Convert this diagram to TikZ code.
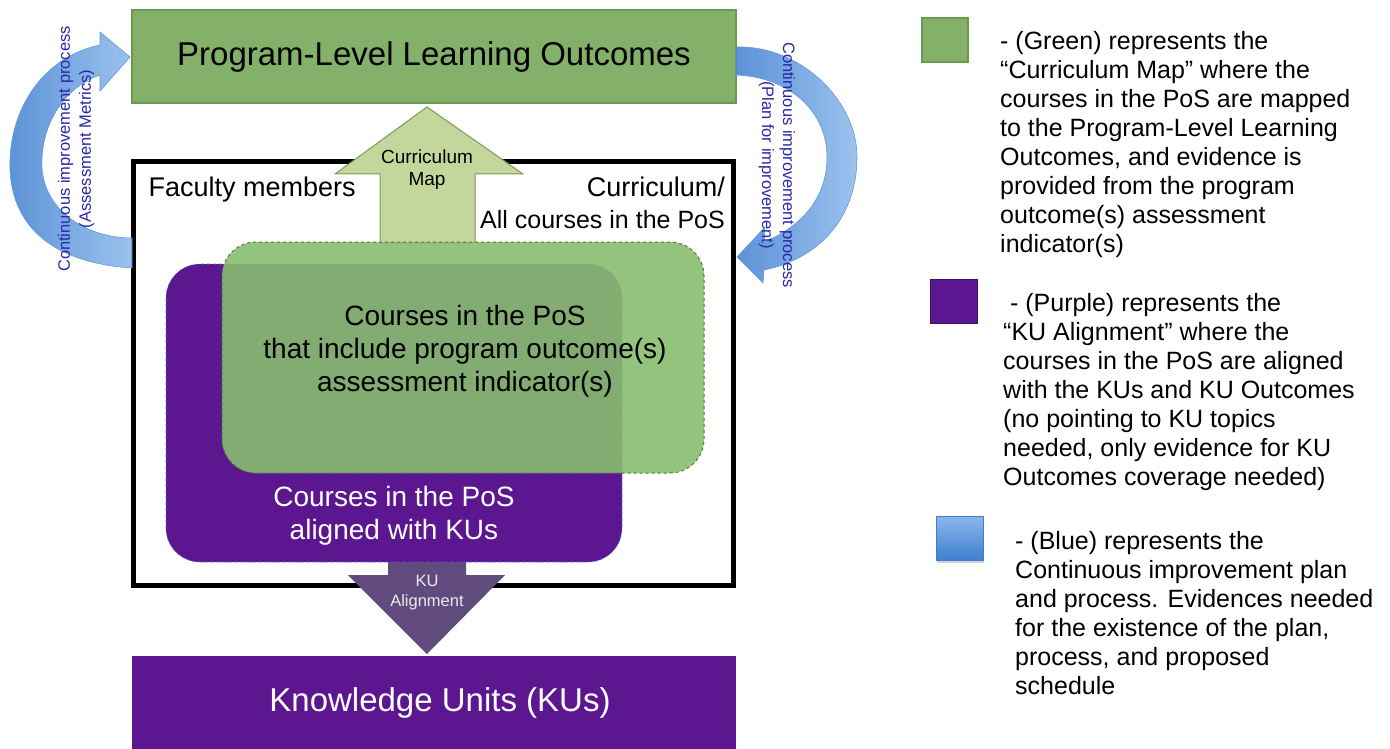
\documentclass[tikz,border=0pt]{standalone}
\usepackage{fontspec}
\setmainfont{Liberation Sans}
\usetikzlibrary{shadows}
\definecolor{plofill}{HTML}{84B16A}
\definecolor{plodraw}{HTML}{6A9A50}
\definecolor{mapfill}{HTML}{C3D69B}
\definecolor{mapdraw}{HTML}{7A9A55}
\definecolor{posfill}{HTML}{87BD6E}
\definecolor{posdraw}{HTML}{4E7A38}
\definecolor{kufill}{HTML}{5C1690}
\definecolor{aligndraw}{HTML}{614A7E}
\definecolor{cidark}{HTML}{3F7FD0}
\definecolor{cilight}{HTML}{8AB8EA}
\definecolor{citext}{HTML}{2828A8}
\tikzset{
  big/.style={font=\fontsize{33}{38}\selectfont},
  mid/.style={font=\fontsize{28}{33}\selectfont},
  small/.style={font=\fontsize{19}{22}\selectfont},
  tiny/.style={font=\fontsize{16.5}{20}\selectfont},
  legend/.style={font=\fontsize{25}{29}\selectfont, align=left, anchor=north west, inner sep=0pt},
  ciarrow/.style={left color=cidark, right color=cilight, fill opacity=0.85, draw=cidark!80, line width=0.6pt},
  citxt/.style={font=\fontsize{16.5}{21}\selectfont, text=citext, align=center}
}
\begin{document}
\begin{tikzpicture}[x=1pt,y=-1pt]
  \useasboundingbox (0,0) rectangle (1390,749);
  % top and bottom boxes
  \node[big, fill=plofill, draw=plodraw, line width=1.2pt, minimum width=604pt, minimum height=93pt] (plo) at (434,56.5) {Program-Level Learning Outcomes};
  \node[fill=kufill, minimum width=604pt, minimum height=96pt] (ku) at (434,704) {};
  \node[big, text=white] (kutext) at (440,703) {Knowledge Units (KUs)};
  % black frame
  \draw[line width=5pt] (133,162) rectangle (733,585);
  \node[font=\fontsize{27}{32}\selectfont, anchor=west] (faculty) at (145,190) {Faculty members};
  \node[font=\fontsize{27}{32}\selectfont, anchor=east, inner sep=0pt] (curr) at (725,187) {Curriculum/};
  \node[font=\fontsize{25}{30}\selectfont, anchor=east, inner sep=0pt] (allpos) at (725,220) {All courses in the PoS};
  % curriculum map arrow
  \draw[fill=mapfill, draw=mapdraw, line width=1pt]
    (380,243) -- (380,174) -- (335,174) -- (427,107) -- (523,174) -- (475,174) -- (475,243) -- cycle;
  \node[small, align=center] (map) at (427,170) {Curriculum\\Map};
  % course boxes
  \draw[fill=kufill, draw=cidark, dashed, line width=0.6pt, rounded corners=34pt]
    (166,264) rectangle (622,562);
  \draw[fill=posfill, fill opacity=0.9, draw=posdraw, dashed, line width=1pt, rounded corners=34pt]
    (222,242) rectangle (704,473);
  \node[mid, align=center] (posout) at (465,351)
    {Courses in the PoS\\that include program outcome(s)\\assessment indicator(s)};
  \node[mid, align=center, text=white] (posku) at (394,516)
    {Courses in the PoS\\aligned with KUs};
  % KU alignment arrow
  \fill[aligndraw]
    (388,562) -- (466,562) -- (466,575) -- (505,575) -- (427,654) -- (348,575) -- (388,575) -- cycle;
  \node[tiny, align=center, text=white!92!black] (align) at (427,593) {KU\\Alignment};
  % continuous improvement arrows
  \draw[ciarrow]
    (132,268) .. controls (40,262) and (8,215) .. (10,160)
    .. controls (12,100) and (50,55) .. (100,45)
    -- (100,32) -- (130,57) -- (100,91) -- (100,75)
    .. controls (62,88) and (40,128) .. (42,168)
    .. controls (45,212) and (88,238) .. (132,238) -- cycle;
  \draw[ciarrow]
    (736,47) .. controls (800,45) and (857,100) .. (857,157)
    .. controls (857,215) and (822,258) .. (764,270)
    -- (763,283) -- (737,257) -- (765,227) -- (764,242)
    .. controls (805,225) and (827,195) .. (827,157)
    .. controls (827,112) and (790,77) .. (736,75) -- cycle;
  \node[citxt, rotate=90] (cileft) at (76,149)
    {Continuous improvement process\\(Assessment Metrics)};
  \node[citxt, rotate=-90] (ciright) at (777,165)
    {Continuous improvement process\\(Plan for improvement)};
  % legend
  \draw[fill=plofill, draw=plodraw, line width=1.2pt] (922,18) rectangle (968,62);
  \node[legend] (leggreen) at (1000,31.5)
    {- (Green) represents the\\``Curriculum Map'' where the\\courses in the PoS are mapped\\to the Program-Level Learning\\Outcomes, and evidence is\\provided from the program\\outcome(s) assessment\\indicator(s)};
  \draw[fill=kufill, draw=kufill!70!black, line width=0.8pt] (930,279) rectangle (977,323);
  \node[legend] (legpurple) at (1003,293)
    {\ - (Purple) represents the\\``KU Alignment'' where the\\courses in the PoS are aligned\\with the KUs and KU Outcomes\\(no pointing to KU topics\\needed, only evidence for KU\\Outcomes coverage needed)};
  \draw[top color=cilight, bottom color=cidark, draw=cidark, line width=0.6pt, drop shadow={opacity=0.35, shadow xshift=1pt, shadow yshift=-3pt}] (936,516) rectangle (983,560);
  \node[legend] (legblue) at (1015,531)
    {- (Blue) represents the\\Continuous improvement plan\\and process. Evidences needed\\for the existence of the plan,\\process, and proposed\\schedule};
\end{tikzpicture}
\end{document}
